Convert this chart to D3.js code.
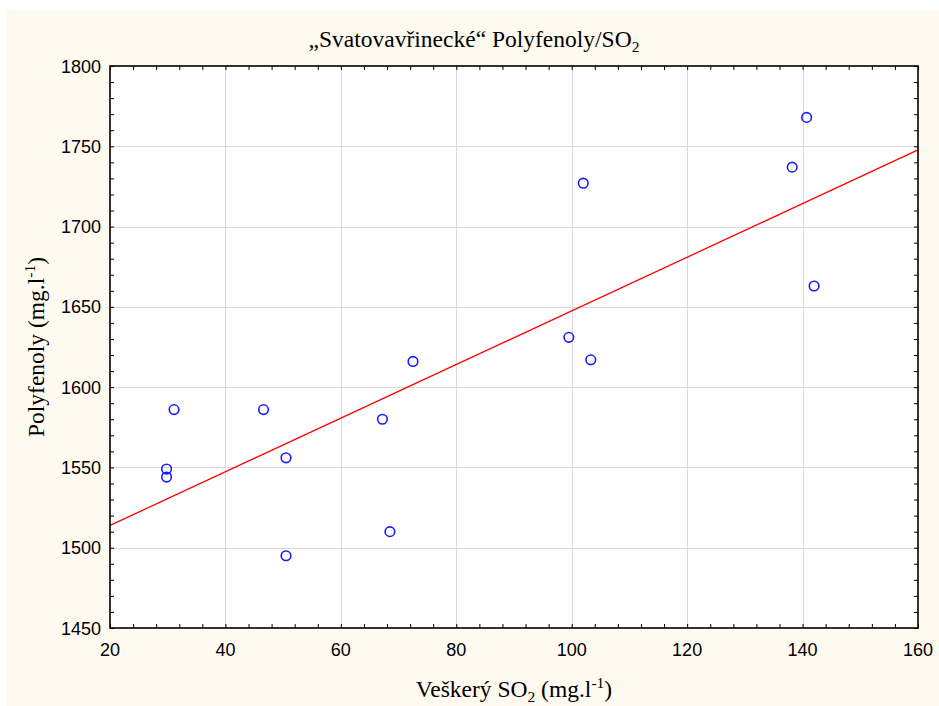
<!DOCTYPE html>
<html>
<head>
<meta charset="utf-8">
<script src="https://cdn.jsdelivr.net/npm/d3@7"></script>
<style>
  body { margin: 0; background: #ffffff; }
  svg { display: block; }
</style>
</head>
<body>
<svg id="chart"></svg>
<script>
const width = 939;
const height = 706;

// data
const so2 = [29.8, 29.8, 31.1, 46.6, 50.5, 50.5, 67.2, 68.5, 72.5, 99.5, 102.0, 103.3, 138.2, 140.7, 142.0];
const polyfenoly = [1549, 1544, 1586, 1586, 1556, 1495, 1580, 1510, 1616, 1631, 1727, 1617, 1737, 1768, 1663];
const xTicks = [20, 40, 60, 80, 100, 120, 140, 160];
const yTicks = [1450, 1500, 1550, 1600, 1650, 1700, 1750, 1800];

const margin = { left: 110, right: 21, top: 66, bottom: 78 };

const svg = d3.select("#chart")
    .attr("width", width)
    .attr("height", height);

// cream panel
svg.append("rect")
    .attr("x", 7).attr("y", 10)
    .attr("width", width - 7).attr("height", height - 10)
    .attr("fill", "#fefaf0");

const x = d3.scaleLinear().domain([20, 160]).range([margin.left, width - margin.right]);
const y = d3.scaleLinear().domain([1450, 1800]).range([height - margin.bottom, margin.top]);

const plotW = x.range()[1] - x.range()[0];
const plotH = y.range()[0] - y.range()[1];

svg.append("rect")
    .attr("x", x.range()[0]).attr("y", y.range()[1])
    .attr("width", plotW).attr("height", plotH)
    .attr("fill", "#ffffff");

// grid
const grid = svg.append("g").attr("stroke", "#d9d9d9").attr("stroke-width", 1);
grid.selectAll(".gx").data(xTicks.slice(1, -1)).enter().append("line")
    .attr("x1", d => Math.round(x(d)) + 0.5).attr("x2", d => Math.round(x(d)) + 0.5)
    .attr("y1", y.range()[1]).attr("y2", y.range()[0]);
grid.selectAll(".gy").data(yTicks.slice(1, -1)).enter().append("line")
    .attr("y1", d => Math.round(y(d)) + 0.5).attr("y2", d => Math.round(y(d)) + 0.5)
    .attr("x1", x.range()[0]).attr("x2", x.range()[1]);

// regression line (least squares)
const mx = d3.mean(so2), my = d3.mean(polyfenoly);
const slope = d3.sum(so2, (v, i) => (v - mx) * (polyfenoly[i] - my)) / d3.sum(so2, v => (v - mx) * (v - mx));
const intercept = my - slope * mx;
svg.append("line")
    .attr("x1", x(20)).attr("y1", y(intercept + slope * 20))
    .attr("x2", x(160)).attr("y2", y(intercept + slope * 160))
    .attr("stroke", "#ff0000").attr("stroke-width", 1.3);

// points
svg.append("g").selectAll("circle")
    .data(so2.map((v, i) => [v, polyfenoly[i]]))
    .enter().append("circle")
    .attr("cx", d => x(d[0])).attr("cy", d => y(d[1]))
    .attr("r", 4.8)
    .attr("fill", "none")
    .attr("stroke", "#1a1aff")
    .attr("stroke-width", 1.6);

// axes with inward minor ticks
const xMinor = d3.range(20, 160.01, 4);
const yMinor = d3.range(1450, 1800.01, 10);
const tickLen = 4;

svg.append("g").attr("transform", `translate(0,${y.range()[0]})`)
    .call(d3.axisBottom(x).tickValues(xMinor).tickSize(-tickLen).tickFormat(""));
svg.append("g").attr("transform", `translate(0,${y.range()[1]})`)
    .call(d3.axisTop(x).tickValues(xMinor).tickSize(-tickLen).tickFormat(""));
svg.append("g").attr("transform", `translate(${x.range()[0]},0)`)
    .call(d3.axisLeft(y).tickValues(yMinor).tickSize(-tickLen).tickFormat(""));
svg.append("g").attr("transform", `translate(${x.range()[1]},0)`)
    .call(d3.axisRight(y).tickValues(yMinor).tickSize(-tickLen).tickFormat(""));
svg.selectAll(".domain").remove();
svg.selectAll(".tick line").attr("stroke", "#000").attr("stroke-width", 1);

// frame
svg.append("rect")
    .attr("x", x.range()[0]).attr("y", y.range()[1])
    .attr("width", plotW).attr("height", plotH)
    .attr("fill", "none").attr("stroke", "#000").attr("stroke-width", 1.6);

// tick labels
svg.append("g").selectAll("text").data(xTicks).enter().append("text")
    .attr("x", d => x(d)).attr("y", y.range()[0] + 28)
    .attr("text-anchor", "middle")
    .attr("font-family", "Liberation Sans, Arial, sans-serif")
    .attr("font-size", 18)
    .text(d => d);
svg.append("g").selectAll("text").data(yTicks).enter().append("text")
    .attr("x", x.range()[0] - 9).attr("y", d => y(d) + 6.5)
    .attr("text-anchor", "end")
    .attr("font-family", "Liberation Sans, Arial, sans-serif")
    .attr("font-size", 18)
    .text(d => d);

const serif = "Liberation Serif, Times New Roman, serif";
const fs = 23.5, sub = 15.5;

// title
const title = svg.append("text")
    .attr("x", 474).attr("y", 47)
    .attr("text-anchor", "middle")
    .attr("font-family", serif).attr("font-size", fs);
title.append("tspan").text("\u201eSvatovav\u0159ineck\u00e9\u201c Polyfenoly/SO");
title.append("tspan").attr("font-size", sub).attr("dy", 5).text("2");

// x axis title
const xt = svg.append("text")
    .attr("x", 514).attr("y", 697)
    .attr("text-anchor", "middle")
    .attr("font-family", serif).attr("font-size", fs);
xt.append("tspan").text("Ve\u0161ker\u00fd SO");
xt.append("tspan").attr("font-size", sub).attr("dy", 5).text("2");
xt.append("tspan").attr("dy", -5).text(" (mg.l");
xt.append("tspan").attr("font-size", sub).attr("dy", -9).text("-1");
xt.append("tspan").attr("dy", 9).text(")");

// y axis title
const yt = svg.append("text")
    .attr("transform", "translate(44,347) rotate(-90)")
    .attr("text-anchor", "middle")
    .attr("font-family", serif).attr("font-size", fs);
yt.append("tspan").text("Polyfenoly (mg.l");
yt.append("tspan").attr("font-size", sub).attr("dy", -9).text("-1");
yt.append("tspan").attr("dy", 9).text(")");
</script>
</body>
</html>
